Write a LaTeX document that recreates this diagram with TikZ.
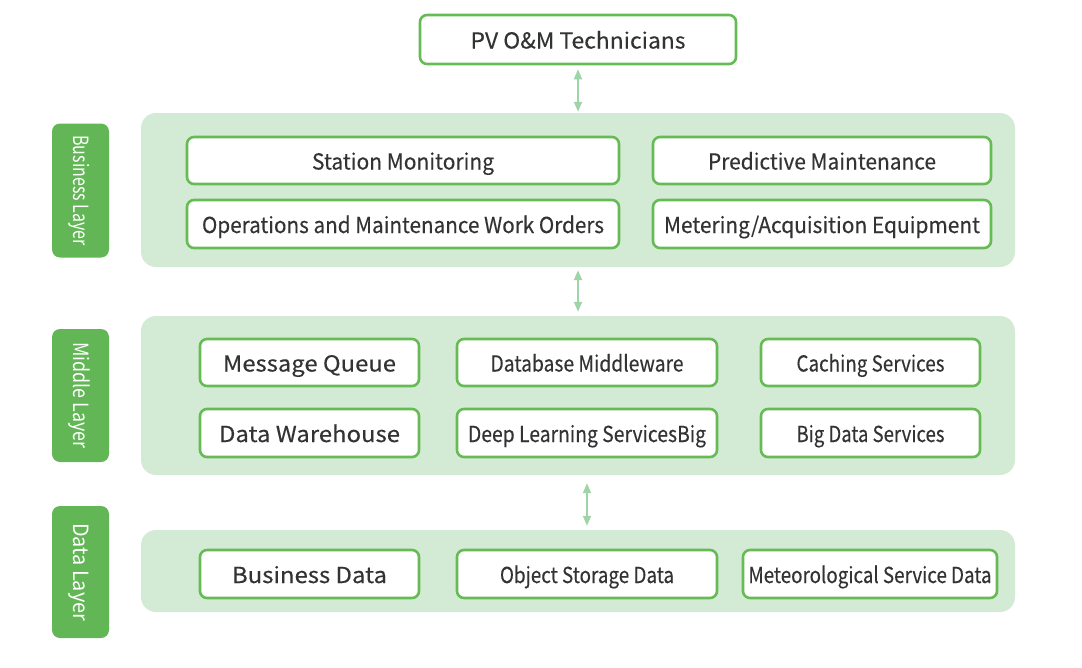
\documentclass[tikz,border=0pt]{standalone}
\usepackage{fontspec}
\usepackage{graphicx}
\setmainfont{Noto Sans CJK SC}[FakeBold=0.25]
\newfontfamily\labelfont{Noto Sans CJK SC}
\usetikzlibrary{arrows.meta,calc}
\definecolor{bordergreen}{HTML}{66BB55}
\definecolor{layerbg}{HTML}{D3EAD5}
\definecolor{labelgreen}{HTML}{62B655}
\definecolor{arrowgreen}{HTML}{9FD4A6}
\definecolor{txt}{HTML}{333333}
\newcommand\fitw[2]{\resizebox{#1pt}{\height}{#2}}
\begin{document}
\begin{tikzpicture}[x=1pt,y=-1pt,
  box/.style={draw=bordergreen,line width=2.6pt,fill=white,rounded corners=7pt,
    inner sep=0pt,text=txt,text height=18pt,text depth=0pt,font=\fontsize{22}{24}\selectfont},
  layer/.style={fill=layerbg,draw=none,rounded corners=15pt,inner sep=0pt},
  sidelabel/.style={fill=labelgreen,draw=none,rounded corners=8pt,inner sep=0pt,
    text=white,text height=15pt,text depth=0pt,font=\labelfont\fontsize{21}{23}\selectfont,rotate=-90},
  link/.style={draw=arrowgreen,line width=1.8pt,{Triangle[length=10pt,width=8pt]}-{Triangle[length=10pt,width=8pt]}}]
\useasboundingbox (0,0) rectangle (1082,667);
% layers
\node[layer,minimum width=874pt,minimum height=154pt] (bl) at (578,190) {};
\node[layer,minimum width=874pt,minimum height=159pt] (ml) at (578,395.5) {};
\node[layer,minimum width=874pt,minimum height=82pt] (dly) at (578,571) {};
% side labels
\node[sidelabel,minimum width=134pt,minimum height=57pt] (lb) at (80.5,190.5) {\fitw{110}{Business Layer}};
\node[sidelabel,minimum width=133pt,minimum height=57pt] (lm) at (80.5,395.5) {\fitw{106}{Middle Layer}};
\node[sidelabel,minimum width=132pt,minimum height=57pt] (ld) at (80.5,572) {\fitw{98}{Data Layer}};
% top
\node[box,minimum width=316pt,minimum height=49pt] (top) at (578,39.5) {\fitw{215}{PV O\&M Technicians}};
% business
\node[box,minimum width=432pt,minimum height=47pt] (sm) at (403,160.5) {\fitw{182}{Station Monitoring}};
\node[box,minimum width=338pt,minimum height=47pt] (pm) at (822,160.5) {\fitw{228}{Predictive Maintenance}};
\node[box,minimum width=432pt,minimum height=48pt] (wo) at (403,224) {\fitw{402}{Operations and Maintenance Work Orders}};
\node[box,minimum width=338pt,minimum height=48pt] (me) at (822,224) {\fitw{316}{Metering/Acquisition Equipment}};
% middle
\node[box,minimum width=219pt,minimum height=47pt] (mq) at (309.5,362.5) {\fitw{173}{Message Queue}};
\node[box,minimum width=260pt,minimum height=47pt] (dm) at (587,362.5) {\fitw{193}{Database Middleware}};
\node[box,minimum width=219pt,minimum height=47pt] (cs) at (870.5,362.5) {\fitw{148}{Caching Services}};
\node[box,minimum width=219pt,minimum height=48pt] (dw) at (309.5,433) {\fitw{181}{Data Warehouse}};
\node[box,minimum width=260pt,minimum height=48pt] (dl) at (587,433) {\fitw{238}{Deep Learning ServicesBig}};
\node[box,minimum width=219pt,minimum height=48pt] (bd) at (870.5,433) {\fitw{148}{Big Data Services}};
% data
\node[box,minimum width=219pt,minimum height=48pt] (bsd) at (309.5,574) {\fitw{155}{Business Data}};
\node[box,minimum width=260pt,minimum height=48pt] (os) at (587,574) {\fitw{174}{Object Storage Data}};
\node[box,minimum width=254pt,minimum height=48pt] (met) at (870,574) {\fitw{243}{Meteorological Service Data}};
% links
\draw[link,shorten <=4pt,shorten >=1pt] (top.south) -- (bl.north);
\draw[link,shorten <=3pt,shorten >=4pt] (bl.south) -- (ml.north);
\draw[link,shorten <=8pt,shorten >=4pt] (dm |- ml.south) -- (dm |- dly.north);
\end{tikzpicture}
\end{document}
